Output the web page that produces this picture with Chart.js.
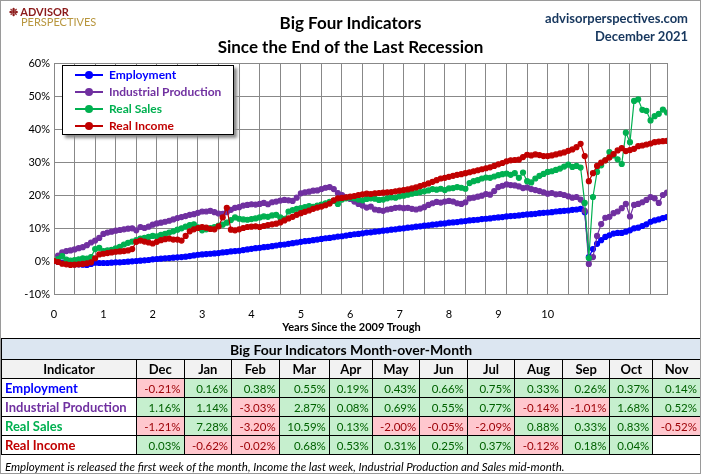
<!DOCTYPE html>
<html>
<head>
<meta charset="utf-8">
<script src="https://cdn.jsdelivr.net/npm/chart.js@4"></script>
<style>
body { margin:0; background:#fff; font-family: Lato, "Open Sans", sans-serif; }
#wrap { position:relative; width:699px; height:472px; border:1px solid #9a9a9a; overflow:hidden; }
#c { position:absolute; left:0; top:0; }
.abs { position:absolute; }
#title { left:0; width:699px; top:10px; text-align:center; font-weight:bold; font-size:17px; line-height:24px; color:#000; }
#site { right:12px; top:8px; text-align:right; font-weight:bold; font-size:13px; line-height:18px; color:#17375e; }
#logo { left:8px; top:6px; line-height:10px; font-weight:bold; font-size:11px; }
#legend { left:61px; top:64px; width:170px; height:68px; border:1px solid #000; background:#fff; box-shadow:3px 3px 3px #888; font-weight:bold; font-size:12px; }
.li { position:relative; height:17px; line-height:17px; padding-left:46px; }
.li i { position:absolute; left:12px; top:8px; width:28px; height:2px; }
.li b { position:absolute; left:22px; top:5px; width:8px; height:8px; border-radius:50%; }
#xt { left:0; width:701px; top:319px; text-align:center; font-weight:bold; font-size:11px; }
table { position:absolute; left:0; top:337px; width:700px; border-collapse:collapse; font-size:11.5px; }
td { border:1px solid #000; height:18px; padding:0 3px; text-align:right; }
td.n { text-align:left; font-weight:bold; font-size:13px; }
tr.h td { text-align:center; font-weight:bold; font-size:13px; background:#f2f2f2; }
td.t { background:#dce6f1; text-align:center; font-weight:bold; font-size:14px; height:20px; }
.g { background:#c6efce; color:#006100; }
.r { background:#ffc7ce; color:#9c0006; }
#foot { left:4px; top:459px; font-style:italic; font-size:11.5px; }
</style>
</head>
<body>
<div id="wrap">
<canvas id="c" width="701" height="336"></canvas>
<div id="logo" class="abs"><span style="color:#8b1a1a">&#10057; ADVISOR</span><br><span style="color:#b8963e;font-weight:normal;padding-left:12px">PERSPECTIVES</span></div>
<div id="title" class="abs">Big Four Indicators<br>Since the End of the Last Recession</div>
<div id="site" class="abs">advisorperspectives.com<br>December 2021</div>
<div id="legend" class="abs"></div>
<div id="xt" class="abs">Years Since the 2009 Trough</div>
<table id="tbl"></table>
<div id="foot" class="abs">Employment is released the first week of the month, Income the last week, Industrial Production and Sales mid-month.</div>
</div>
<script>
// monthly % change since June 2009 (month 0) through Nov 2021
const employment = [
 0.0,-0.3,-0.5,-0.7,-0.8,-1.0,-1.0,-1.1,-1.2,-0.9,-0.5,-0.6,
 -0.6,-0.6,-0.5,-0.4,-0.4,-0.3,-0.2,-0.1,0.0,0.1,0.2,0.3,
 0.5,0.6,0.7,0.8,0.9,1.0,1.1,1.2,1.3,1.5,1.7,1.9,
 2.0,2.1,2.2,2.3,2.4,2.6,2.7,2.9,3.0,3.1,3.3,3.5,
 3.7,3.9,4.0,4.2,4.3,4.5,4.7,4.9,5.0,5.2,5.4,5.6,
 5.8,6.0,6.1,6.3,6.5,6.7,6.9,7.0,7.2,7.4,7.5,7.7,
 7.9,8.1,8.2,8.4,8.6,8.7,8.9,9.0,9.2,9.3,9.5,9.6,
 9.8,9.9,10.1,10.2,10.4,10.5,10.7,10.8,11.0,11.1,11.3,11.4,
 11.6,11.7,11.8,12.0,12.1,12.3,12.4,12.5,12.7,12.8,12.9,13.1,
 13.2,13.3,13.5,13.6,13.7,13.8,14.0,14.1,14.2,14.3,14.5,14.6,
 14.7,14.8,15.0,15.1,15.2,15.3,15.5,15.6,15.8,14.8,1.2,3.6,
 5.2,6.3,7.3,7.8,8.3,8.5,8.5,8.9,9.3,9.9,10.1,10.6,
 11.1,11.9,12.3,12.6,13.0,13.3];
const industrial = [
 0.0,1.6,2.6,3.0,3.2,3.5,3.9,4.2,4.8,5.6,6.2,7.0,
 8.2,8.6,8.9,9.2,9.4,9.6,9.8,9.9,9.3,10.3,10.0,10.4,
 11.0,11.4,11.6,11.9,12.2,12.6,13.0,13.3,13.6,14.0,14.2,14.6,
 15.0,15.0,15.2,14.8,14.4,14.3,14.8,15.5,16.1,16.3,16.8,17.0,
 17.2,17.1,17.3,17.6,17.2,17.8,18.0,18.3,18.5,18.4,18.2,19.2,
 20.5,20.8,21.0,21.3,21.4,21.8,22.2,22.4,21.8,20.6,20.0,19.3,
 18.8,18.0,17.3,16.8,16.2,16.5,15.6,15.4,15.2,15.6,15.8,16.1,
 16.2,16.0,16.1,15.8,15.6,15.9,16.3,17.0,17.5,17.9,17.7,18.0,
 18.2,18.0,17.5,17.3,17.8,19.0,19.2,19.5,19.8,20.3,20.1,21.2,
 22.4,22.8,23.2,23.0,22.9,22.6,22.1,22.3,21.8,21.5,21.2,20.8,
 20.4,20.6,20.2,20.3,20.0,19.6,19.2,19.4,18.6,15.2,-0.9,1.2,
 7.6,11.2,13.1,13.4,14.5,15.0,16.0,17.3,13.5,17.0,17.3,17.8,
 18.5,19.4,19.0,17.6,20.0,20.7];
const realSales = [
 0.0,0.6,1.5,0.4,0.1,0.3,0.5,0.8,0.7,1.2,3.6,4.0,
 3.0,3.2,3.4,3.8,4.3,5.0,5.5,5.9,6.3,6.8,7.0,7.3,
 7.6,7.5,7.9,8.2,8.6,9.0,9.5,9.9,10.4,10.9,11.1,10.2,
 9.3,9.6,10.0,10.3,10.7,11.0,11.6,12.4,13.2,12.8,12.6,12.5,
 12.7,12.9,13.2,13.5,13.4,13.8,14.0,13.2,12.8,15.0,15.4,15.8,
 16.0,16.3,16.6,16.4,16.8,17.1,17.5,17.9,18.2,17.3,18.6,19.0,
 19.2,19.0,18.6,18.4,18.8,19.0,18.9,18.5,18.6,19.0,19.3,19.2,
 19.6,19.8,20.1,20.4,20.6,20.9,21.1,21.4,21.8,21.6,21.9,21.5,
 22.0,22.1,22.4,22.2,21.9,23.6,24.2,24.5,25.0,25.3,25.2,25.6,
 26.0,26.3,26.5,26.1,26.6,25.2,26.8,24.2,23.8,25.0,25.8,26.4,
 27.0,27.2,27.6,28.0,28.6,29.2,28.5,28.8,28.3,17.6,0.9,19.4,
 27.0,29.0,30.5,33.0,32.0,30.8,29.4,38.9,36.0,48.5,49.0,45.8,
 45.5,42.6,43.9,44.6,45.9,45.0];
const realIncome = [
 0.0,-0.3,-0.8,-1.0,-1.2,-1.1,-1.0,-0.9,-0.7,-0.4,0.8,2.0,
 2.2,2.4,2.6,2.8,2.9,3.0,3.2,3.6,5.8,6.2,5.9,5.6,
 5.3,5.8,6.3,6.6,6.8,6.5,6.5,6.2,7.6,9.0,9.6,10.0,
 10.3,10.1,9.7,9.6,10.5,13.2,16.1,9.5,9.3,9.6,10.0,10.3,
 10.4,10.5,10.3,10.6,10.9,11.1,11.3,11.7,12.3,12.9,13.4,14.0,
 14.5,14.9,15.3,15.8,16.2,16.5,16.9,17.4,18.4,19.0,19.1,19.3,
 19.5,19.7,20.0,20.2,20.4,20.3,20.5,20.6,20.7,20.8,20.9,21.1,
 21.3,21.5,21.7,22.0,22.3,22.7,23.1,23.5,24.0,24.5,25.0,25.2,
 25.5,25.8,26.1,26.3,26.6,26.9,27.2,27.5,27.8,28.1,28.4,28.8,
 29.3,29.7,30.2,30.5,30.6,30.7,31.5,32.2,32.0,32.3,32.1,31.8,
 31.8,32.0,32.3,32.6,32.9,33.4,33.8,34.5,35.5,31.8,24.2,26.6,
 28.8,29.8,30.5,31.4,32.4,33.5,34.2,33.3,33.6,34.0,34.8,35.0,
 35.3,35.6,36.0,36.2,36.3,36.4];

const seriesNames = ['Employment','Industrial Production','Real Sales','Real Income'];
const seriesColors = ['#0000ff','#7030a0','#00b050','#c00000'];
const yTicks = [-10,0,10,20,30,40,50,60];

// table
const tableMonths = ['Dec','Jan','Feb','Mar','Apr','May','Jun','Jul','Aug','Sep','Oct','Nov'];
const momEmployment = [-0.21,0.16,0.38,0.55,0.19,0.43,0.66,0.75,0.33,0.26,0.37,0.14];
const momIndustrial = [1.16,1.14,-3.03,2.87,0.08,0.69,0.55,0.77,-0.14,-1.01,1.68,0.52];
const momSales = [-1.21,7.28,-3.20,10.59,0.13,-2.00,-0.05,-2.09,0.88,0.33,0.83,-0.52];
const momIncome = [0.03,-0.62,-0.02,0.68,0.53,0.31,0.25,0.37,-0.12,0.18,0.04,null];

const allSeries = [employment, industrial, realSales, realIncome];
const datasets = allSeries.map((d, i) => ({
  label: seriesNames[i],
  data: d.map((v, m) => ({x: m, y: v})),
  borderColor: seriesColors[i],
  backgroundColor: seriesColors[i],
  borderWidth: 1.2,
  pointRadius: 2.5,
  pointHoverRadius: 2.5,
  order: 4 - i
}));

new Chart(document.getElementById('c'), {
  type: 'line',
  data: { datasets: datasets },
  options: {
    responsive: false,
    animation: false,
    layout: { padding: { top: 62, right: 35, left: 0, bottom: 0 } },
    plugins: { legend: { display: false }, tooltip: { enabled: false } },
    scales: {
      x: {
        type: 'linear', min: 0, max: 149,
        afterBuildTicks: s => { s.ticks = []; for (let m = 0; m <= 149; m += 5) s.ticks.push({value: m}); s.ticks.push({value: 149}); },
        ticks: { display: false },
        grid: { color: '#888', lineWidth: 1, drawTicks: false },
        border: { color: '#888' },
        afterFit: s => { s.height = 0; }
      },
      xl: {
        type: 'linear', position: 'bottom', min: 0, max: 149,
        afterBuildTicks: s => { s.ticks = []; for (let m = 0; m <= 120; m += 12) s.ticks.push({value: m}); },
        ticks: { callback: v => v / 12, color: '#000', font: { family: 'Lato', size: 11 }, maxRotation: 0, padding: 6 },
        grid: { display: false },
        border: { display: false },
        afterFit: s => { s.height = 43; }
      },
      y: {
        min: -10, max: 60,
        afterBuildTicks: s => { s.ticks = yTicks.map(v => ({value: v})); },
        ticks: { callback: v => v + '%', color: '#000', font: { family: 'Lato', size: 11 }, padding: 4 },
        grid: { color: '#888', drawTicks: false },
        border: { color: '#888' },
        afterFit: s => { s.width = 53; }
      }
    }
  }
});

// legend
const lg = document.getElementById('legend');
seriesNames.forEach((n, i) => {
  lg.innerHTML += '<div class="li" style="color:' + seriesColors[i] + '"><i style="background:' + seriesColors[i] + '"></i><b style="background:' + seriesColors[i] + '"></b>' + n + '</div>';
});

// table
const tb = document.getElementById('tbl');
let html = '<tr><td class="t" colspan="13">Big Four Indicators Month-over-Month</td></tr>';
html += '<tr class="h"><td style="width:128px">Indicator</td>' + tableMonths.map(m => '<td>' + m + '</td>').join('') + '</tr>';
[momEmployment, momIndustrial, momSales, momIncome].forEach((row, i) => {
  html += '<tr><td class="n" style="color:' + seriesColors[i] + '">' + seriesNames[i] + '</td>';
  row.forEach(v => {
    if (v === null) html += '<td></td>';
    else html += '<td class="' + (v < 0 ? 'r' : 'g') + '">' + v.toFixed(2) + '%</td>';
  });
  html += '</tr>';
});
tb.innerHTML = html;
</script>
</body>
</html>
